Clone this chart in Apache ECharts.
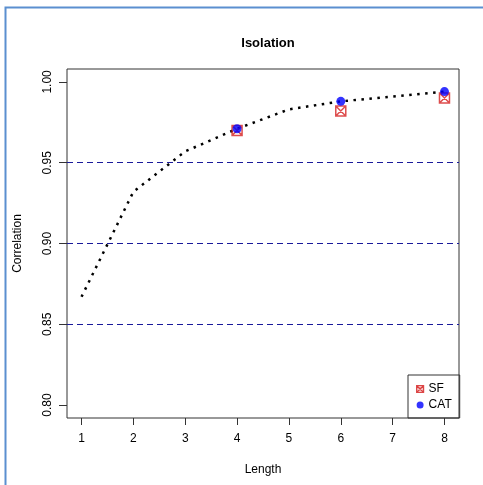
<!DOCTYPE html>
<html>
<head>
<meta charset="utf-8">
<script src="https://cdn.jsdelivr.net/npm/echarts@6/dist/echarts.min.js"></script>
<style>
  html, body { margin: 0; padding: 0; background: #fff; }
  #chart { width: 483px; height: 485px; }
</style>
</head>
<body>
<div id="chart"></div>
<script>
// values
const lengths = [1, 2, 3, 4, 5, 6, 7, 8];
const curveValues = [0.867, 0.932, 0.957, 0.971, 0.983, 0.988, 0.991, 0.994];
const pointLengths = [4, 6, 8];
const sfValues = [0.970, 0.982, 0.990];
const catValues = [0.971, 0.988, 0.994];
const refLines = [0.85, 0.90, 0.95];
const xTicks = [1, 2, 3, 4, 5, 6, 7, 8];
const yTicks = [0.80, 0.85, 0.90, 0.95, 1.00];

const squareCross = 'path://M0,0 L10,0 L10,10 L0,10 Z M0,0 L10,10 M10,0 L0,10';
const font = 'Liberation Sans, Arial, sans-serif';

const chart = echarts.init(document.getElementById('chart'));

const option = {
    animation: false,
    title: {
        text: 'Isolation',
        left: 263,
        top: 32,
        textAlign: 'center',
        textStyle: { fontFamily: font, fontSize: 13, fontWeight: 'bold', color: '#000' }
    },
    legend: {
        orient: 'vertical',
        left: 408,
        top: 375,
        padding: [8, 8, 7, 8],
        itemGap: 4,
        itemWidth: 7,
        itemHeight: 7,
        borderColor: '#333',
        borderWidth: 1,
        textStyle: { fontFamily: font, fontSize: 12, color: '#000', padding: [0, 0, 0, 0] },
        data: [
            { name: 'SF', icon: squareCross, itemStyle: { color: '#f2b0b0', borderColor: '#d42020', borderWidth: 1.2 } },
            { name: 'CAT', icon: 'circle', itemStyle: { color: '#0000ff' } }
        ],
        selectedMode: false
    },
    grid: {
        left: 67, right: 24, top: 69, bottom: 67,
        show: true,
        borderColor: '#333',
        borderWidth: 1
    },
    xAxis: {
        type: 'value',
        min: 0.72,
        max: 8.28,
        name: 'Length',
        nameLocation: 'middle',
        nameGap: 46,
        nameTextStyle: { fontFamily: font, fontSize: 12, color: '#000' },
        axisLine: { show: false },
        splitLine: { show: false },
        axisTick: { show: true, length: 7, lineStyle: { color: '#333' }, customValues: xTicks },
        axisLabel: {
            fontFamily: font, fontSize: 12, color: '#000', margin: 15,
            customValues: xTicks,
            formatter: v => String(v)
        }
    },
    yAxis: {
        type: 'value',
        min: 0.792,
        max: 1.008,
        name: 'Correlation',
        nameLocation: 'middle',
        nameGap: 43,
        nameTextStyle: { fontFamily: font, fontSize: 12, color: '#000' },
        axisLine: { show: false },
        splitLine: { show: false },
        axisTick: { show: true, length: 8, lineStyle: { color: '#333' }, customValues: yTicks },
        axisLabel: {
            fontFamily: font, fontSize: 12, color: '#000', margin: 13, rotate: 90,
            customValues: yTicks,
            formatter: v => v.toFixed(2)
        }
    },
    series: [
        {
            name: 'curve',
            type: 'line',
            data: lengths.map((x, i) => [x, curveValues[i]]),
            showSymbol: false,
            lineStyle: { color: '#000', width: 2.5, type: [2.5, 5.5] },
            z: 2,
            markLine: {
                silent: true,
                symbol: 'none',
                label: { show: false },
                lineStyle: { color: '#1a1a9a', width: 1, type: [6, 4] },
                data: refLines.map(v => ({ yAxis: v }))
            }
        },
        {
            name: 'SF',
            type: 'scatter',
            data: pointLengths.map((x, i) => [x, sfValues[i]]),
            symbol: squareCross,
            symbolSize: 10,
            itemStyle: { color: 'rgba(0,0,0,0)', borderColor: '#d42020', borderWidth: 1.5 },
            z: 3
        },
        {
            name: 'CAT',
            type: 'scatter',
            data: pointLengths.map((x, i) => [x, catValues[i]]),
            symbol: 'circle',
            symbolSize: 9,
            itemStyle: { color: '#0000ff' },
            z: 4
        }
    ],
    graphic: [
        {
            type: 'rect',
            silent: true,
            shape: { x: 5.5, y: 7.5, width: 700, height: 700 },
            style: { fill: 'none', stroke: '#5b8fd0', lineWidth: 2 }
        }
    ]
};

chart.setOption(option);
window.addEventListener('resize', () => chart.resize());
</script>
</body>
</html>
